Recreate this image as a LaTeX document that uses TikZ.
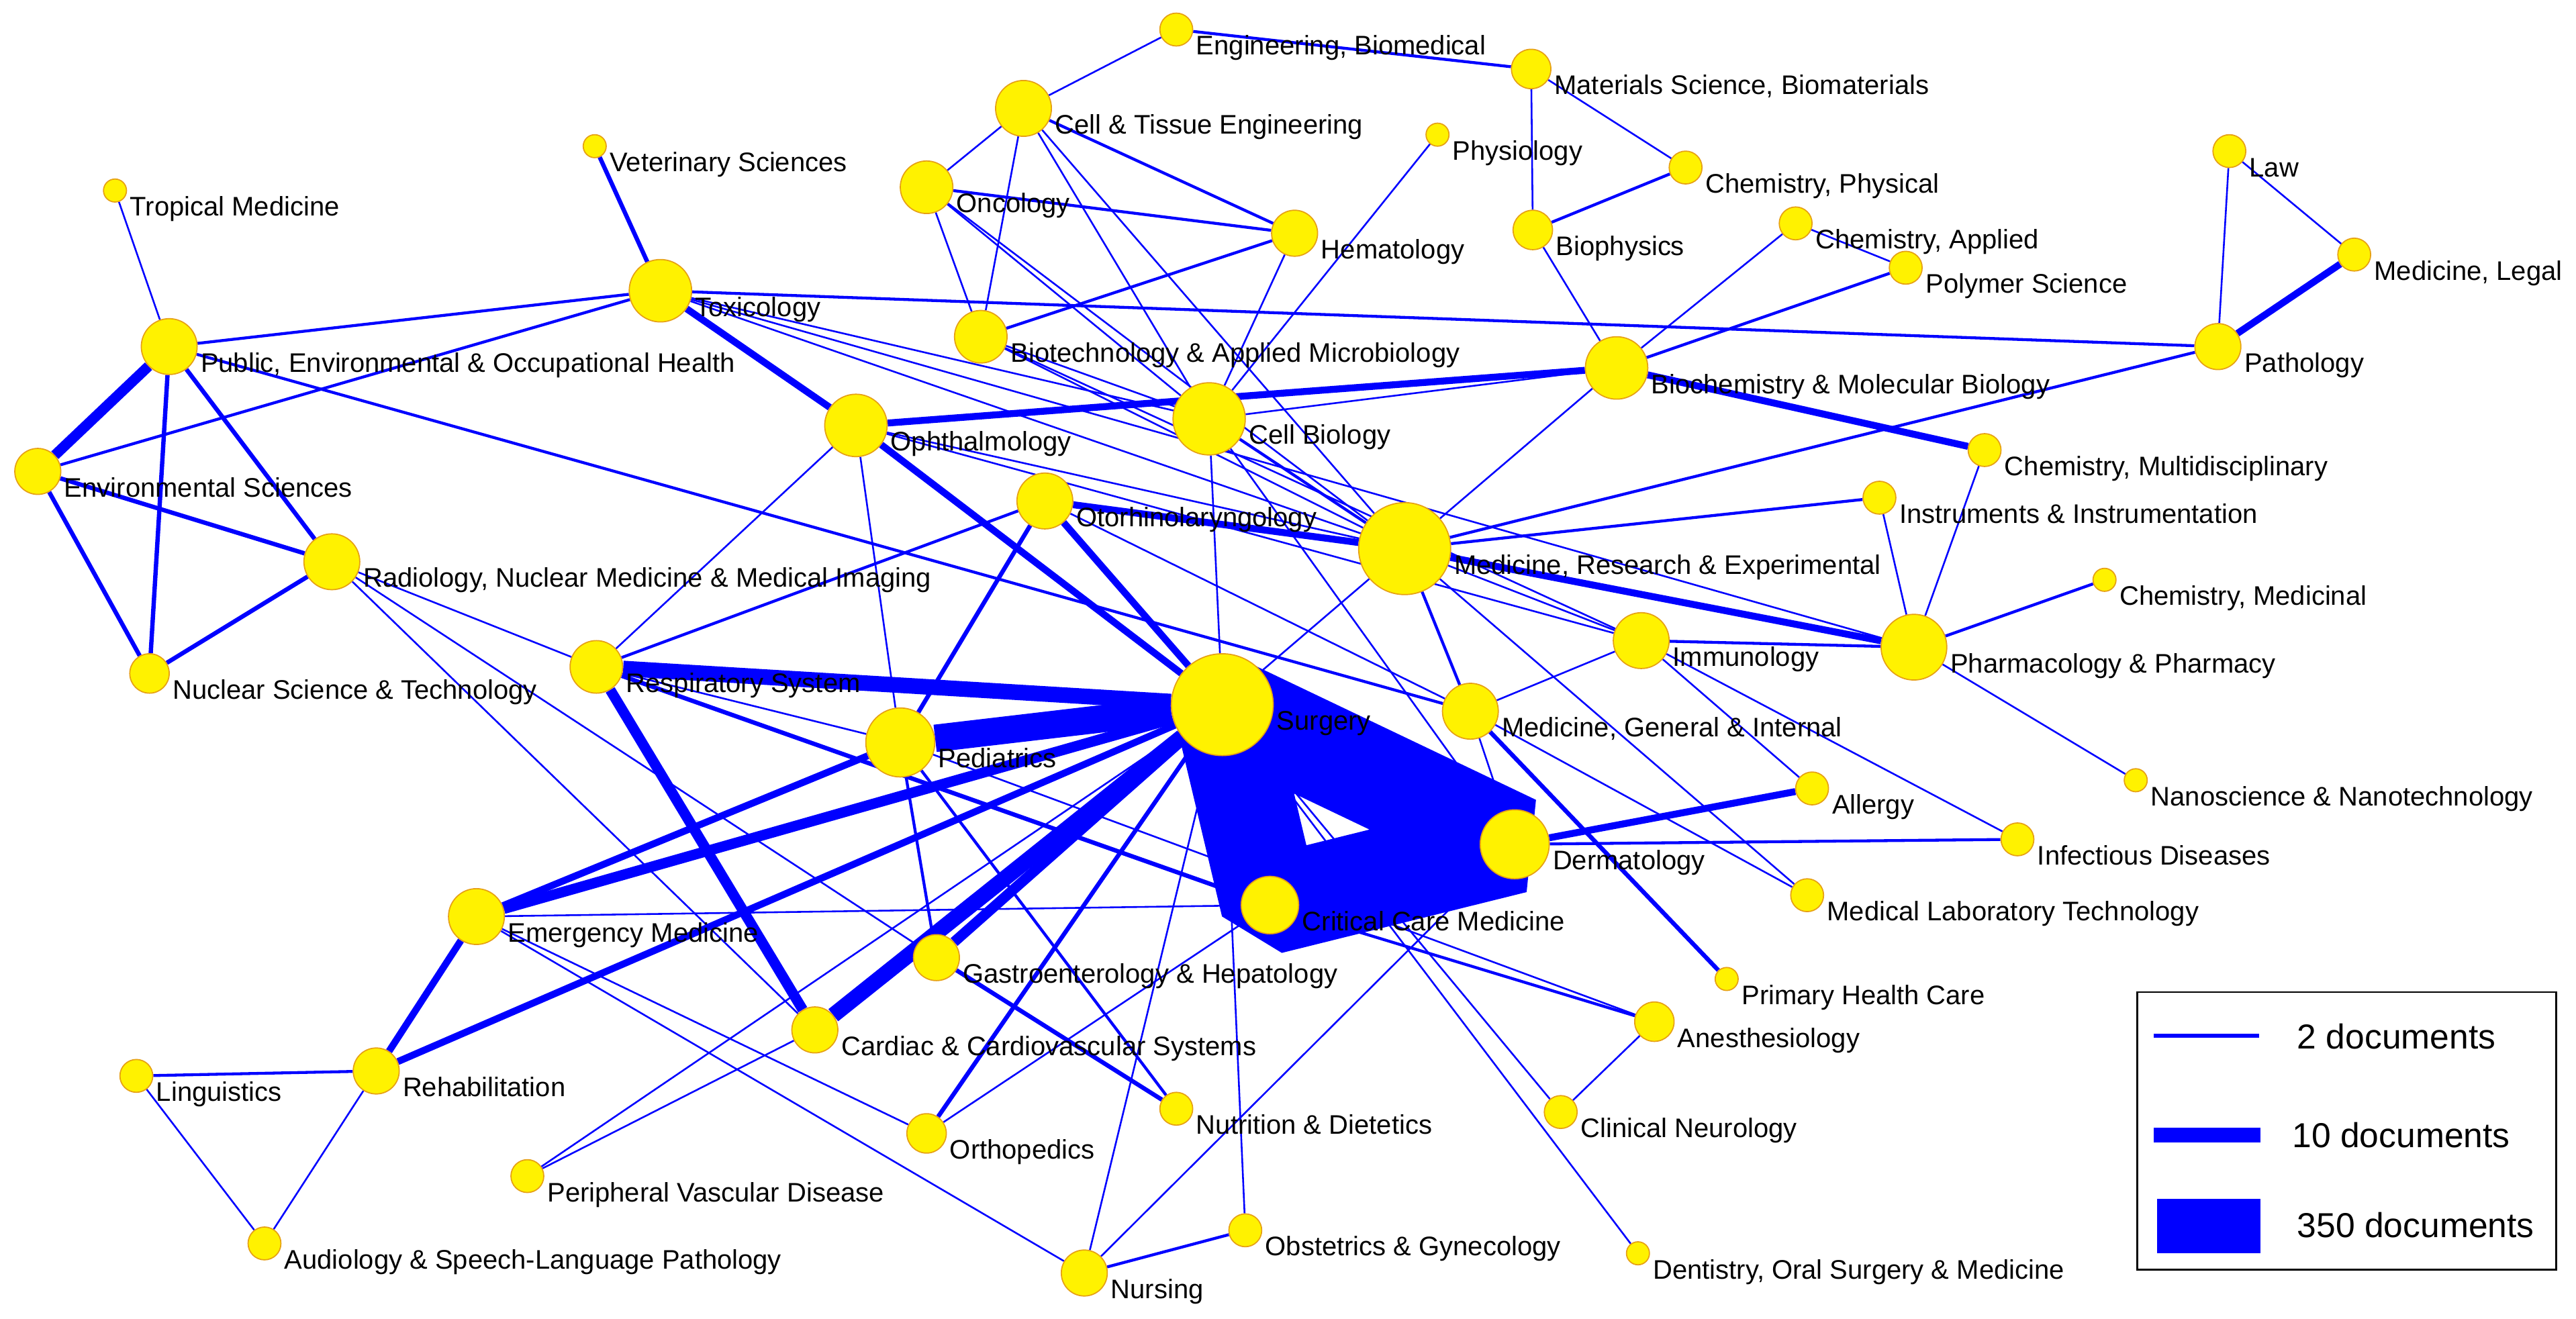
\documentclass[tikz,border=0pt]{standalone}
\usepackage{fontspec}
\setmainfont{Liberation Sans}
\usetikzlibrary{backgrounds}
\definecolor{rim}{RGB}{230,160,20}
\newcommand\lblfont{\fontsize{9.3}{11}\selectfont}
\newcommand\legfont{\fontsize{12}{14}\selectfont}

\begin{document}
\begin{tikzpicture}[x=0.02cm, y=-0.02cm,
    vtx/.style={circle, fill=yellow, draw=rim, line width=0.4pt, inner sep=0pt, minimum size=#1*0.02cm},
    lab/.style={anchor=base west, inner sep=0pt, xshift=0.03cm, yshift=-0.31cm, font=\lblfont},
    e1/.style={draw=blue, line width=0.6pt},
    e2/.style={draw=blue, line width=1pt},
    e3/.style={draw=blue, line width=1.5pt},
    e4/.style={draw=blue, line width=2.4pt},
    e5/.style={draw=blue, line width=3.6pt},
    e6/.style={draw=blue, line width=5.4pt},
    e7/.style={draw=blue, line width=9.5pt},
    blob/.style={draw=blue, line width=1.2cm, line join=bevel},
    legtxt/.style={anchor=west, inner sep=0pt, font=\legfont}]
\useasboundingbox (0,0) rectangle (1568,803);

% subject categories
\node[vtx=20, label={[lab]east:Engineering, Biomedical}] (engbio) at (716,18) {};
\node[vtx=24, label={[lab]east:Materials Science, Biomaterials}] (matsci) at (932,42) {};
\node[vtx=34, label={[lab]east:Cell \& Tissue Engineering}] (celltis) at (623,66) {};
\node[vtx=14, label={[lab]east:Physiology}] (physio) at (875,82) {};
\node[vtx=20, label={[lab]east:Chemistry, Physical}] (chemphys) at (1026,102) {};
\node[vtx=32, label={[lab]east:Oncology}] (onco) at (564,114) {};
\node[vtx=28, label={[lab]east:Hematology}] (hema) at (788,142) {};
\node[vtx=24, label={[lab]east:Biophysics}] (biophys) at (933,140) {};
\node[vtx=20, label={[lab]east:Chemistry, Applied}] (chemapp) at (1093,136) {};
\node[vtx=20, label={[lab]east:Polymer Science}] (polymer) at (1160,163) {};
\node[vtx=20, label={[lab]east:Law}] (law) at (1357,92) {};
\node[vtx=20, label={[lab]east:Medicine, Legal}] (medlegal) at (1433,155) {};
\node[vtx=14, label={[lab]east:Veterinary Sciences}] (vet) at (362,89) {};
\node[vtx=14, label={[lab]east:Tropical Medicine}] (tropic) at (70,116) {};
\node[vtx=38, label={[lab]east:Toxicology}] (toxic) at (402,177) {};
\node[vtx=34, label={[lab]east:Public, Environmental \& Occupational Health}] (pubenv) at (103,211) {};
\node[vtx=32, label={[lab]east:Biotechnology \& Applied Microbiology}] (biotech) at (597,205) {};
\node[vtx=38, label={[lab]east:Biochemistry \& Molecular Biology}] (biochem) at (984,224) {};
\node[vtx=28, label={[lab]east:Pathology}] (patho) at (1350,211) {};
\node[vtx=38, label={[lab]east:Ophthalmology}] (ophth) at (521,259) {};
\node[vtx=44, label={[lab]east:Cell Biology}] (cellbio) at (736,255) {};
\node[vtx=20, label={[lab]east:Chemistry, Multidisciplinary}] (chemmulti) at (1208,274) {};
\node[vtx=28, label={[lab]east:Environmental Sciences}] (envsci) at (23,287) {};
\node[vtx=34, label={[lab]east:Otorhinolaryngology}] (otorh) at (636,305) {};
\node[vtx=20, label={[lab]east:Instruments \& Instrumentation}] (instr) at (1144,303) {};
\node[vtx=56, label={[lab]east:Medicine, Research \& Experimental}] (medres) at (855,334) {};
\node[vtx=14, label={[lab]east:Chemistry, Medicinal}] (chemmed) at (1281,353) {};
\node[vtx=34, label={[lab]east:Radiology, Nuclear Medicine \& Medical Imaging}] (radio) at (202,342) {};
\node[vtx=34, label={[lab]east:Immunology}] (immun) at (999,390) {};
\node[vtx=40, label={[lab]east:Pharmacology \& Pharmacy}] (pharma) at (1165,394) {};
\node[vtx=32, label={[lab]east:Respiratory System}] (resp) at (363,406) {};
\node[vtx=24, label={[lab]east:Nuclear Science \& Technology}] (nucsci) at (91,410) {};
\node[vtx=62, label={[lab]east:Surgery}] (surg) at (744,429) {};
\node[vtx=34, label={[lab]east:Medicine, General \& Internal}] (medgen) at (895,433) {};
\node[vtx=42, label={[lab]east:Pediatrics}] (pedi) at (548,452) {};
\node[vtx=20, label={[lab]east:Allergy}] (allergy) at (1103,480) {};
\node[vtx=14, label={[lab]east:Nanoscience \& Nanotechnology}] (nano) at (1300,475) {};
\node[vtx=42, label={[lab]east:Dermatology}] (derm) at (922,514) {};
\node[vtx=20, label={[lab]east:Infectious Diseases}] (infect) at (1228,511) {};
\node[vtx=20, label={[lab]east:Medical Laboratory Technology}] (medlab) at (1100,545) {};
\node[vtx=35, label={[lab]east:Critical Care Medicine}] (crit) at (773,551) {};
\node[vtx=34, label={[lab]east:Emergency Medicine}] (emerg) at (290,558) {};
\node[vtx=28, label={[lab]east:Gastroenterology \& Hepatology}] (gastro) at (570,583) {};
\node[vtx=14, label={[lab]east:Primary Health Care}] (primary) at (1051,596) {};
\node[vtx=28, label={[lab]east:Cardiac \& Cardiovascular Systems}] (cardiac) at (496,627) {};
\node[vtx=24, label={[lab]east:Anesthesiology}] (anesth) at (1007,622) {};
\node[vtx=20, label={[lab]east:Linguistics}] (ling) at (83,655) {};
\node[vtx=28, label={[lab]east:Rehabilitation}] (rehab) at (229,652) {};
\node[vtx=24, label={[lab]east:Orthopedics}] (ortho) at (564,690) {};
\node[vtx=20, label={[lab]east:Nutrition \& Dietetics}] (nutri) at (716,675) {};
\node[vtx=20, label={[lab]east:Clinical Neurology}] (neuro) at (950,677) {};
\node[vtx=20, label={[lab]east:Peripheral Vascular Disease}] (periph) at (321,716) {};
\node[vtx=20, label={[lab]east:Audiology \& Speech-Language Pathology}] (audio) at (161,757) {};
\node[vtx=20, label={[lab]east:Obstetrics \& Gynecology}] (obst) at (758,749) {};
\node[vtx=28, label={[lab]east:Nursing}] (nurs) at (660,775) {};
\node[vtx=14, label={[lab]east:Dentistry, Oral Surgery \& Medicine}] (dent) at (997,763) {};

\begin{scope}[on background layer]
% top clusters
\draw[e2] (engbio) -- (matsci);
\draw[e1] (engbio) -- (celltis);
\draw[e1] (matsci) -- (biophys);
\draw[e1] (matsci) -- (chemphys);
\draw[e2] (chemphys) -- (biophys);
\draw[e1] (biophys) -- (biochem);
\draw[e1] (chemapp) -- (polymer);
\draw[e1] (chemapp) -- (biochem);
\draw[e2] (polymer) -- (biochem);
\draw[e1] (law) -- (patho);
\draw[e1] (law) -- (medlegal);
\draw[e4] (medlegal) -- (patho);
\draw[e2] (toxic) -- (patho);
\draw[e2] (patho) -- (medres);
\draw[e1] (celltis) -- (onco);
\draw[e1] (celltis) -- (biotech);
\draw[e2] (celltis) -- (hema);
\draw[e1] (celltis) -- (cellbio);
\draw[e1] (celltis) -- (medres);
\draw[e2] (onco) -- (hema);
\draw[e1] (onco) -- (biotech);
\draw[e1] (onco) -- (cellbio);
\draw[e1] (onco) -- (medres);
\draw[e2] (biotech) -- (hema);
\draw[e1] (hema) -- (cellbio);
\draw[e1] (physio) -- (cellbio);
\draw[e1] (biotech) -- (cellbio);
\draw[e1] (biotech) -- (medres);
\draw[e1] (biotech) -- (immun);
% left cluster
\draw[e3] (vet) -- (toxic);
\draw[e1] (tropic) -- (pubenv);
\draw[e2] (pubenv) -- (toxic);
\draw[e2] (envsci) -- (toxic);
\draw[e4] (toxic) -- (ophth);
\draw[e1] (toxic) -- (cellbio);
\draw[e1] (toxic) -- (medres);
\draw[e1] (toxic) -- (pharma);
\draw[e5] (pubenv) -- (envsci);
\draw[e3] (pubenv) -- (nucsci);
\draw[e3] (pubenv) -- (radio);
\draw[e2] (pubenv) -- (medgen);
\draw[e3] (envsci) -- (radio);
\draw[e3] (envsci) -- (nucsci);
\draw[e3] (nucsci) -- (radio);
\draw[e1] (radio) -- (resp);
\draw[e1] (radio) -- (cardiac);
\draw[e1] (radio) -- (gastro);
% middle
\draw[e4] (ophth) -- (biochem);
\draw[e4] (ophth) -- (surg);
\draw[e1] (ophth) -- (resp);
\draw[e1] (ophth) -- (pedi);
\draw[e1] (ophth) -- (medres);
\draw[e1] (ophth) -- (immun);
\draw[e1] (cellbio) -- (biochem);
\draw[e1] (cellbio) -- (surg);
\draw[e2] (cellbio) -- (medres);
\draw[e1] (cellbio) -- (derm);
\draw[e1] (medres) -- (biochem);
\draw[e4] (biochem) -- (chemmulti);
\draw[e1] (chemmulti) -- (pharma);
\draw[e2] (medres) -- (instr);
\draw[e1] (instr) -- (pharma);
\draw[e2] (chemmed) -- (pharma);
\draw[e1] (nano) -- (pharma);
\draw[e4] (medres) -- (pharma);
\draw[e2] (immun) -- (pharma);
\draw[e1] (medres) -- (immun);
\draw[e2] (medres) -- (medgen);
\draw[e1] (medres) -- (medlab);
\draw[e1] (medres) -- (surg);
\draw[e4] (otorh) -- (medres);
\draw[e4] (otorh) -- (surg);
\draw[e3] (otorh) -- (pedi);
\draw[e2] (otorh) -- (resp);
\draw[e1] (otorh) -- (medgen);
\draw[e1] (immun) -- (medgen);
\draw[e1] (immun) -- (allergy);
\draw[e1] (immun) -- (infect);
\draw[e3] (medgen) -- (primary);
\draw[e1] (medgen) -- (medlab);
\draw[e1] (medgen) -- (derm);
\draw[e4] (derm) -- (allergy);
\draw[e2] (derm) -- (infect);
\draw[e1] (nurs) -- (derm);
% surgery hub
\draw[blob] (surg.center) -- (derm.center) -- (crit.center) -- cycle;
\draw[e6] (resp) -- (surg);
\draw[e7] (pedi) -- (surg);
\draw[e5] (resp) -- (cardiac);
\draw[e3] (resp) -- (crit);
\draw[e1] (resp) -- (pedi);
\draw[e6] (cardiac) -- (surg);
\draw[e5] (gastro) -- (surg);
\draw[e3] (ortho) -- (surg);
\draw[e5] (emerg) -- (surg);
\draw[e4] (emerg) -- (pedi);
\draw[e4] (rehab) -- (surg);
\draw[e4] (rehab) -- (emerg);
\draw[e2] (rehab) -- (ling);
\draw[e1] (rehab) -- (audio);
\draw[e1] (ling) -- (audio);
\draw[e1] (emerg) -- (nurs);
\draw[e1] (emerg) -- (ortho);
\draw[e1] (emerg) -- (crit);
\draw[e1] (periph) -- (surg);
\draw[e1] (periph) -- (cardiac);
\draw[e2] (pedi) -- (gastro);
\draw[e2] (pedi) -- (nutri);
\draw[e1] (pedi) -- (anesth);
\draw[e3] (gastro) -- (nutri);
\draw[e1] (ortho) -- (crit);
\draw[e1] (nurs) -- (surg);
\draw[e2] (nurs) -- (obst);
\draw[e1] (obst) -- (surg);
\draw[e2] (crit) -- (anesth);
\draw[e1] (anesth) -- (neuro);
\draw[e1] (surg) -- (neuro);
\draw[e1] (surg) -- (dent);
\end{scope}

% legend
\draw[line width=0.6pt] (1301,604) rectangle (1556,773);
\fill[blue] (1311,629.5) rectangle (1375,631.8);
\fill[blue] (1311,686.5) rectangle (1376,695.5);
\fill[blue] (1313,730) rectangle (1376,763);
\node[legtxt] (leg2) at (1398,631) {2 documents};
\node[legtxt] (leg10) at (1395,691) {10 documents};
\node[legtxt] (leg350) at (1398,746) {350 documents};
\end{tikzpicture}
\end{document}
